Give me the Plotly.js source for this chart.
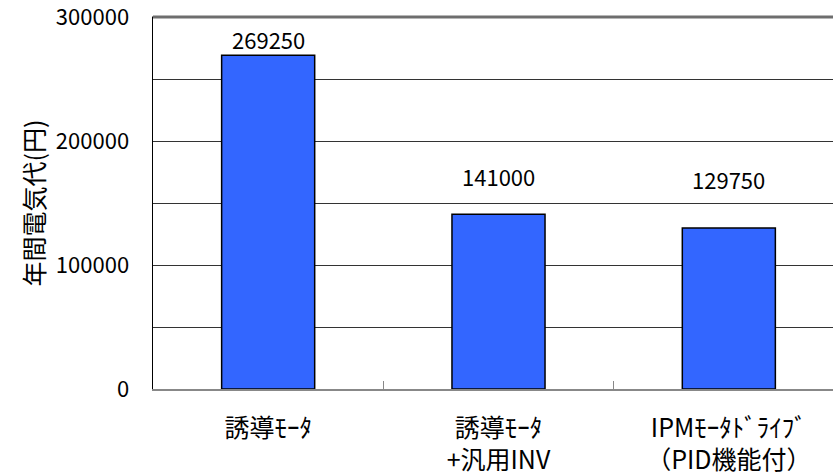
<!DOCTYPE html>
<html>
<head>
<meta charset="utf-8">
<script src="https://cdn.plot.ly/plotly-3.0.1.min.js"></script>
<style>
html,body{margin:0;padding:0;overflow:hidden;background:#fff;}
#chart{width:850px;height:476px;}
</style>
</head>
<body>
<div id="chart"></div>
<script>
var categories = ["誘導ﾓｰﾀ", "誘導ﾓｰﾀ<br>+汎用INV", "IPMﾓｰﾀﾄﾞﾗｲﾌﾞ<br>（PID機能付）"];
var values = [269250, 141000, 129750];
var yTickVals = [0, 50000, 100000, 150000, 200000, 250000, 300000];
var yTickText = ["0", "", "100000", "", "200000", "", "300000"];
var yTitle = "年間電気代(円)";

var FONT = "Noto Sans CJK JP, sans-serif";
var labelShift = [16, 38, 49];

var annotations = values.map(function(v, i){
  return {
    x: categories[i], y: v, xref: 'x', yref: 'y',
    text: String(v), showarrow: false,
    yanchor: 'middle', yshift: labelShift[i],
    font: {family: FONT, size: 22, color: '#000'}
  };
});

var data = [{
  type: 'bar',
  x: categories,
  y: values,
  marker: {color: '#3366FF', line: {color: '#000', width: 1.5}},
  hoverinfo: 'none'
}];

var layout = {
  width: 850, height: 476,
  margin: {l: 153, r: 6, t: 17, b: 87},
  paper_bgcolor: '#fff', plot_bgcolor: '#fff',
  bargap: 0.596,
  showlegend: false,
  font: {family: FONT, color: '#000'},
  xaxis: {
    type: 'category',
    showline: true, linecolor: '#888', linewidth: 1.5, mirror: true,
    ticks: 'inside', tickson: 'boundaries', ticklen: 8, tickcolor: '#888', tickwidth: 1.5,
    tickfont: {family: FONT, size: 25, color: '#000'},
    ticklabelstandoff: 16,
    ticklabeloverflow: 'allow',
    showgrid: false, zeroline: false, automargin: false
  },
  yaxis: {
    range: [0, 300001],
    tickvals: yTickVals, ticktext: yTickText,
    showline: true, linecolor: '#000', linewidth: 1.5,
    ticks: '',
    tickfont: {family: FONT, size: 22, color: '#000'},
    ticklabelstandoff: 18,
    ticklabeloverflow: 'allow',
    showgrid: true, gridcolor: '#333', gridwidth: 1,
    zeroline: false, automargin: false,
    title: {text: yTitle, font: {family: FONT, size: 25, color: '#000'}, standoff: 4}
  },
  shapes: [{
    type: 'line', xref: 'paper', yref: 'paper', x0: 0, x1: 1, y0: 1, y1: 1,
    line: {color: '#6e6e6e', width: 3}
  }],
  annotations: annotations
};

Plotly.newPlot('chart', data, layout, {staticPlot: true, displayModeBar: false});
</script>
</body>
</html>
